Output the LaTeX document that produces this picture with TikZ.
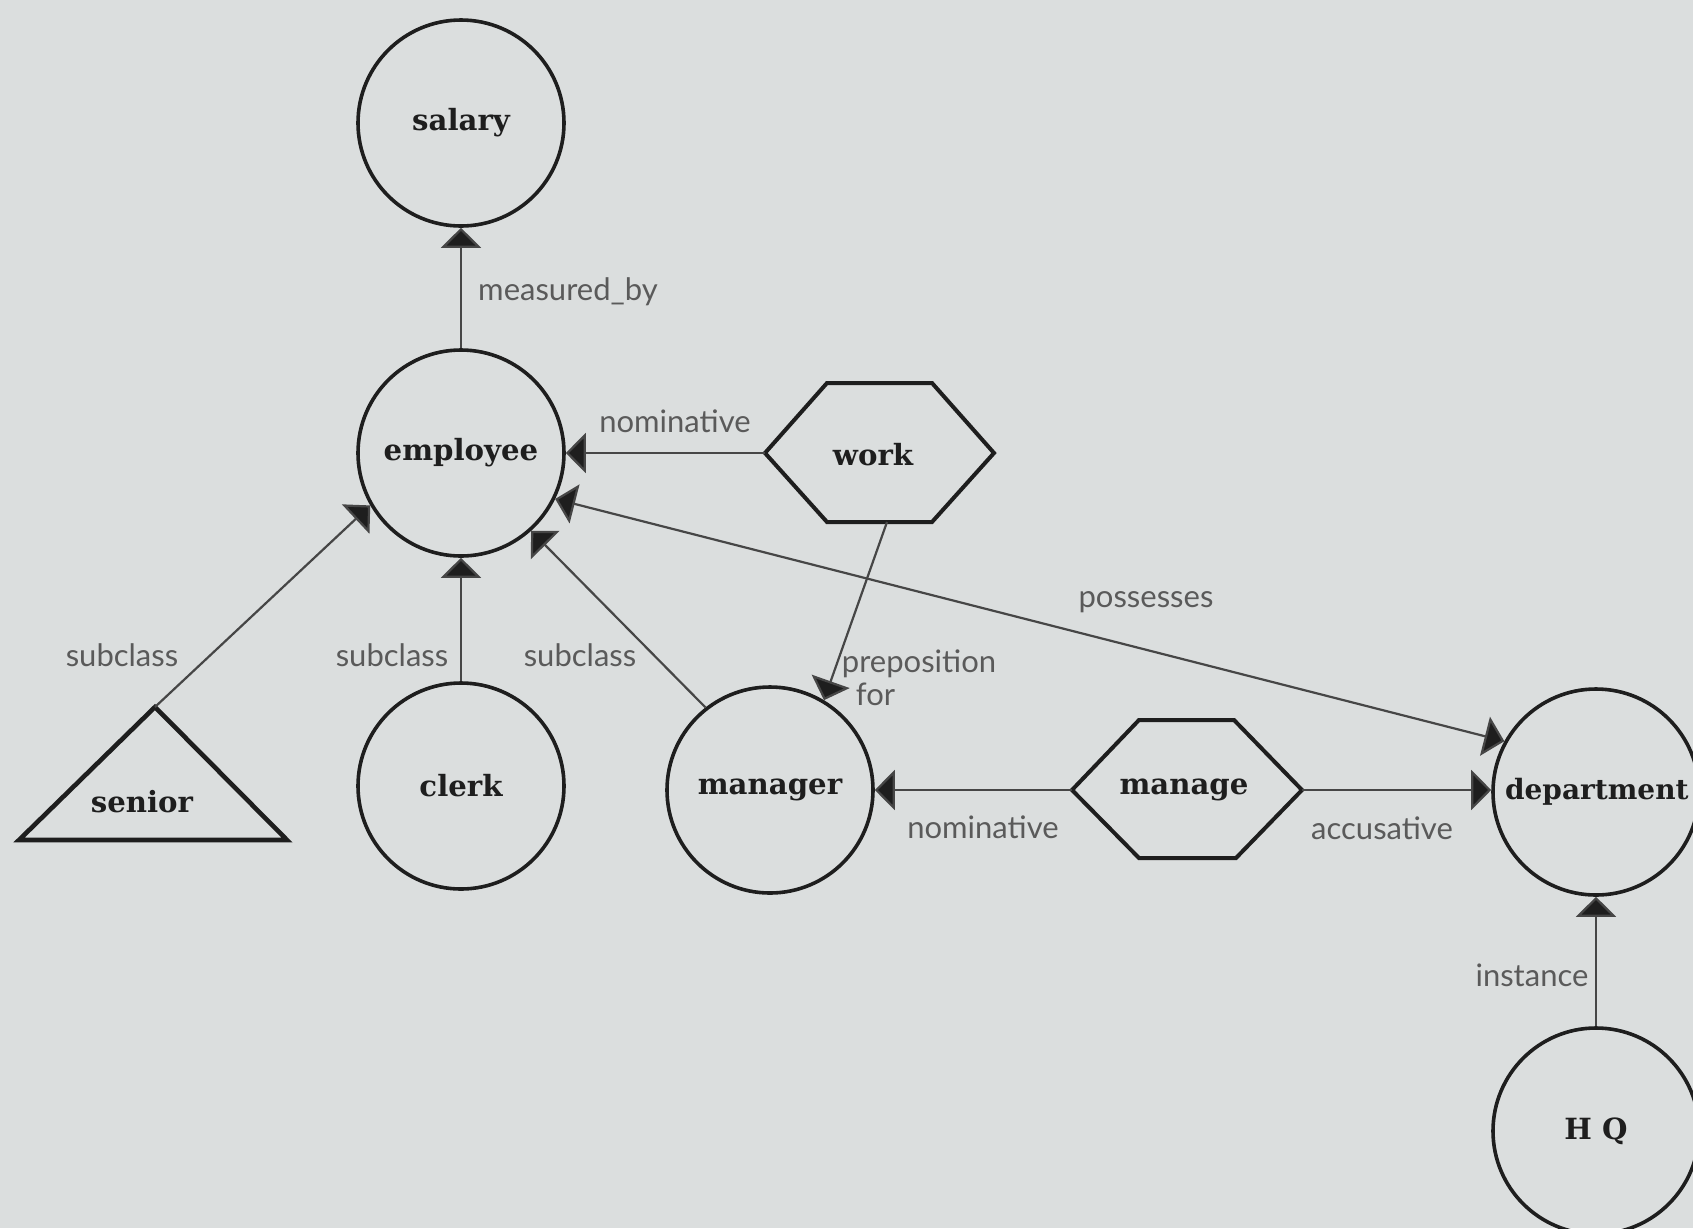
\documentclass[tikz,border=0pt]{standalone}
\usepackage{fontspec}
\setmainfont{DejaVu Serif}
\newfontfamily\lblfont{Lato}
\usetikzlibrary{arrows.meta}
\definecolor{bg}{RGB}{219,222,222}
\definecolor{ink}{RGB}{30,30,30}
\definecolor{lbl}{RGB}{90,90,90}
\definecolor{conn}{RGB}{70,70,70}
\begin{document}
\begin{tikzpicture}[x=0.5pt,y=-0.5pt,
 concept/.style={circle,draw=ink,line width=1.8pt,minimum size=103pt,inner sep=0pt,
   font=\bfseries\fontsize{14.6}{16}\selectfont,text=ink},
 ctext/.style={font=\bfseries\fontsize{14.6}{16}\selectfont,text=ink,inner sep=0pt},
 rel/.style={draw=conn,line width=1.1pt,-{Triangle[length=10pt,width=20pt,fill=ink]}},
 birel/.style={draw=conn,line width=1.1pt,{Triangle[length=10pt,width=20pt,fill=ink]}-{Triangle[length=10pt,width=20pt,fill=ink]}},
 elabel/.style={font=\lblfont\fontsize{15.5}{16.5}\selectfont,text=lbl,inner sep=0pt},
 shapeline/.style={draw=ink,line width=2pt,line join=miter}]
\fill[bg] (0,0) rectangle (1693,1228);
\useasboundingbox (0,0) rectangle (1693,1228);

% concept circles
\node[concept] (salary) at (461,123) {salary};
\node[concept] (employee) at (461,453) {employee};
\node[concept] (clerk) at (461,786) {clerk};
\node[concept] (manager) at (770,790) {manager};
\node[concept] (dept) at (1596,792) {};
\node[ctext,font=\bfseries\fontsize{14}{16}\selectfont,anchor=east] (depttext) at (1689,792) {department};
\node[concept] (hq) at (1596,1131) {H Q};

% senior triangle
\draw[shapeline,line width=2.3pt] (155,707) -- (287,840) -- (19,840) -- cycle;
\coordinate (seniortop) at (155,707);
\node[ctext] (senior) at (142,802) {senior};

% work hexagon
\draw[shapeline] (765,453) -- (827,383) -- (932,383) -- (994,453) -- (932,522) -- (827,522) -- cycle;
\node[ctext] (work) at (873,455) {work};
\coordinate (workL) at (765,453);
\coordinate (workB) at (887,522);

% manage hexagon
\draw[shapeline] (1072,790) -- (1139,720) -- (1234,720) -- (1302,790) -- (1236,858) -- (1139,858) -- cycle;
\node[ctext] (manage) at (1184,790) {manage};
\coordinate (manageL) at (1072,790);
\coordinate (manageR) at (1302,790);

% connectors
\draw[rel] (employee.north) -- (salary.south);
\node[elabel] (lmeas) at (568,292) {measured\_by};

\draw[rel] (workL) -- (employee.east);
\node[elabel] (lnom1) at (675,421) {nominative};

\draw[rel] (seniortop) -- (employee.210);
\node[elabel] (lsub1) at (122,655) {subclass};

\draw[rel] (clerk.north) -- (employee.south);
\node[elabel] (lsub2) at (392,655) {subclass};

\draw[rel] (manager.128) -- (employee.312);
\node[elabel] (lsub3) at (580,655) {subclass};

\draw[rel] (workB) -- (manager.59);
\node[elabel,align=left] (lprep) at (919,678) {preposition\\\hspace*{7pt}for};

\draw[birel] (employee.334) -- (dept.151);
\node[elabel] (lposs) at (1146,602) {possesses};

\draw[rel] (manageL) -- (manager.east);
\node[elabel] (lnom2) at (983,827) {nominative};

\draw[rel] (manageR) -- (manageR -| dept.west);
\node[elabel] (lacc) at (1382,828) {accusative};

\draw[rel] (hq.north) -- (dept.south);
\node[elabel] (linst) at (1532,975) {instance};
\end{tikzpicture}
\end{document}
